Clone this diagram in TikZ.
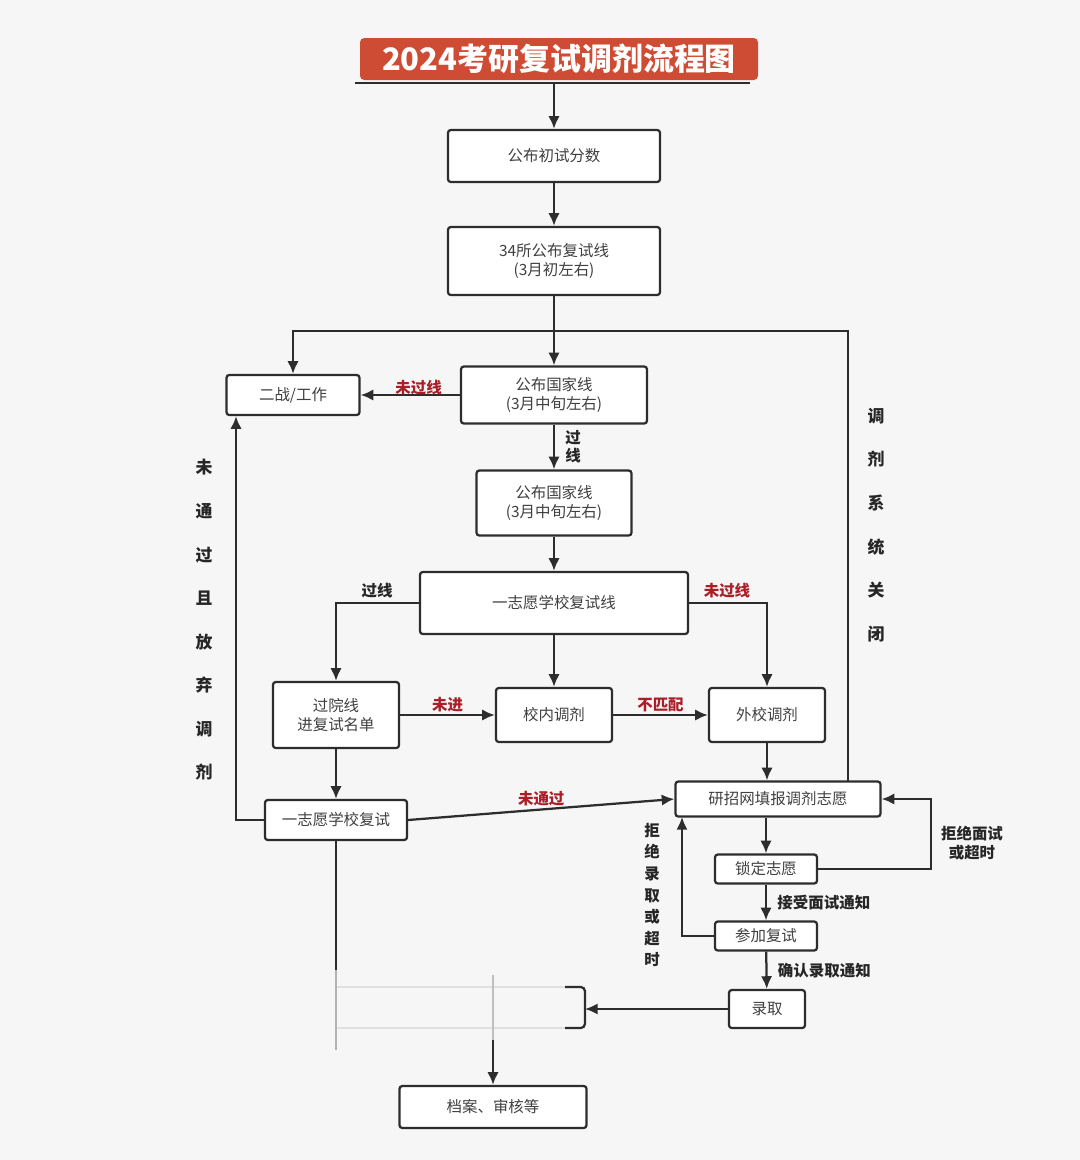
\documentclass[tikz,border=0pt]{standalone}
\usepackage{fontspec}
\setmainfont{Noto Sans CJK SC}
\usetikzlibrary{arrows.meta}
\definecolor{bg}{RGB}{246,246,246}
\definecolor{ttl}{RGB}{206,76,52}
\definecolor{lbl}{RGB}{170,30,40}
\definecolor{ln}{RGB}{45,45,45}
\begin{document}
\begin{tikzpicture}[x=0.025cm,y=-0.025cm,
 bx/.style={draw=ln,line width=1.6pt,rounded corners=2pt,fill=white,minimum width=#1*0.025cm,align=center,font=\fontsize{11}{13}\selectfont,text=black!75,inner sep=0pt},
 ln/.style={draw=ln,line width=1.6pt},
 ar/.style={ln,-{Latex[length=9pt,width=8pt]}},
 rl/.style={text=lbl,font=\bfseries\fontsize{11}{13}\selectfont},
 bl/.style={text=black!85,font=\bfseries\fontsize{11}{13}\selectfont},
 vl/.style={text=black!85,font=\bfseries\fontsize{12}{31}\selectfont,align=center}]
\fill[bg] (0,0) rectangle (1080,1160);
\useasboundingbox (0,0) rectangle (1080,1160);
\node[fill=ttl,rounded corners=3pt,minimum width=398*0.025cm,minimum height=42*0.025cm,text=white,font=\bfseries\fontsize{22}{24}\selectfont,inner sep=0pt] (t) at (559,59) {2024考研复试调剂流程图};
\coordinate (tl) at (554,83);
\draw[ln] (355,83) -- (750,83);
\node[bx=212,minimum height=52*0.025cm] (a) at (554,156) {公布初试分数};
\node[bx=212,minimum height=68*0.025cm] (b) at (554,261) {34所公布复试线\\(3月初左右)};
\node[bx=133,minimum height=40*0.025cm] (w) at (293,395) {二战/工作};
\node[bx=186,minimum height=57*0.025cm] (c) at (554,395) {公布国家线\\(3月中旬左右)};
\node[bx=155,minimum height=65*0.025cm] (d) at (554,503) {公布国家线\\(3月中旬左右)};
\node[bx=268,minimum height=62*0.025cm] (e) at (554,603) {一志愿学校复试线};
\node[bx=126,minimum height=66*0.025cm] (f) at (336,715) {过院线\\进复试名单};
\node[bx=116,minimum height=54*0.025cm] (g) at (554,715) {校内调剂};
\node[bx=116,minimum height=54*0.025cm] (h) at (767,715) {外校调剂};
\node[bx=205,minimum height=35*0.025cm] (y) at (778,799) {研招网填报调剂志愿};
\node[bx=142,minimum height=40*0.025cm] (i) at (336,820) {一志愿学校复试};
\node[bx=102,minimum height=29*0.025cm] (s) at (766,869) {锁定志愿};
\node[bx=102,minimum height=29*0.025cm] (p) at (766,936) {参加复试};
\node[bx=76,minimum height=38*0.025cm] (l) at (767,1009) {录取};
\node[bx=187,minimum height=42*0.025cm] (k) at (493,1107) {档案、审核等};
% faded box
\coordinate (fr) at (585,1009);
\draw[black!12,line width=1.4pt] (335,987) -- (570,987) (335,1028) -- (570,1028);
\draw[ln,rounded corners=3pt] (565,987) -- (585,987) -- (585,1028) -- (565,1028);
\draw[black!25,line width=1.2pt] (493,975) -- (493,1040);
\coordinate (kt) at (493,1040);
\draw[ar] (kt) -- (k.north);
% arrows
\draw[ar] (tl) -- (a);
\draw[ar] (a) -- (b);
\draw[ar] (b) -- (c);
\coordinate (j) at (554,331);
\draw[ar] (j) -| (w.north);
\draw[ln] (j) -- (848,331) -- (848,782);
\draw[ar] (c) -- (w) node[rl,midway,above,xshift=6pt,yshift=-4pt] {未过线};
\draw[ar] (c) -- (d);
\node[bl,align=center] at (573,447) {过\\线};
\draw[ar] (d) -- (e);
\draw[ar] (e.west) -| (f.north);
\node[bl] at (377,591) {过线};
\draw[ar] (e.east) -| (h.north);
\node[rl] at (727,591) {未过线};
\draw[ar] (e) -- (g);
\draw[ar] (f) -- (g) node[rl,midway,above,yshift=-2pt] {未进};
\draw[ar] (g) -- (h) node[rl,midway,above,yshift=-2pt] {不匹配};
\draw[ar] (h) -- (h|-y.north);
\draw[ar] (f) -- (i);
\draw[ar] (i.east) -- (y.west) node[rl,midway,above,yshift=-2pt] {未通过};
\draw[ar] (i.west) -- (236,820) -- (w.south-|236,0);
\node[vl] at (204,620) {未\\通\\过\\且\\放\\弃\\调\\剂};
\node[vl] at (876,525) {调\\剂\\系\\统\\关\\闭};
\draw[ln] (i.south) -- (336,970);
\draw[black!30,line width=1.2pt] (336,970) -- (336,1050);
\draw[ar] (s|-y.south) -- (s);
\draw[ar] (s.east) -- (931,869) -- (931,799) -- (y.east);
\node[bl,align=center] at (972,843) {拒绝面试\\或超时};
\draw[ar] (s) -- (p) node[bl,midway,right,xshift=4pt] {接受面试通知};
\draw[ar] (p.west) -- (682,936) -- (682,817);
\node[vl,font=\bfseries\fontsize{11}{15.4}\selectfont] at (652,895) {拒\\绝\\录\\取\\或\\超\\时};
\draw[ar] (p) -- (l) node[bl,midway,right,xshift=4pt] {确认录取通知};
\draw[ar] (l) -- (fr);
\end{tikzpicture}
\end{document}
